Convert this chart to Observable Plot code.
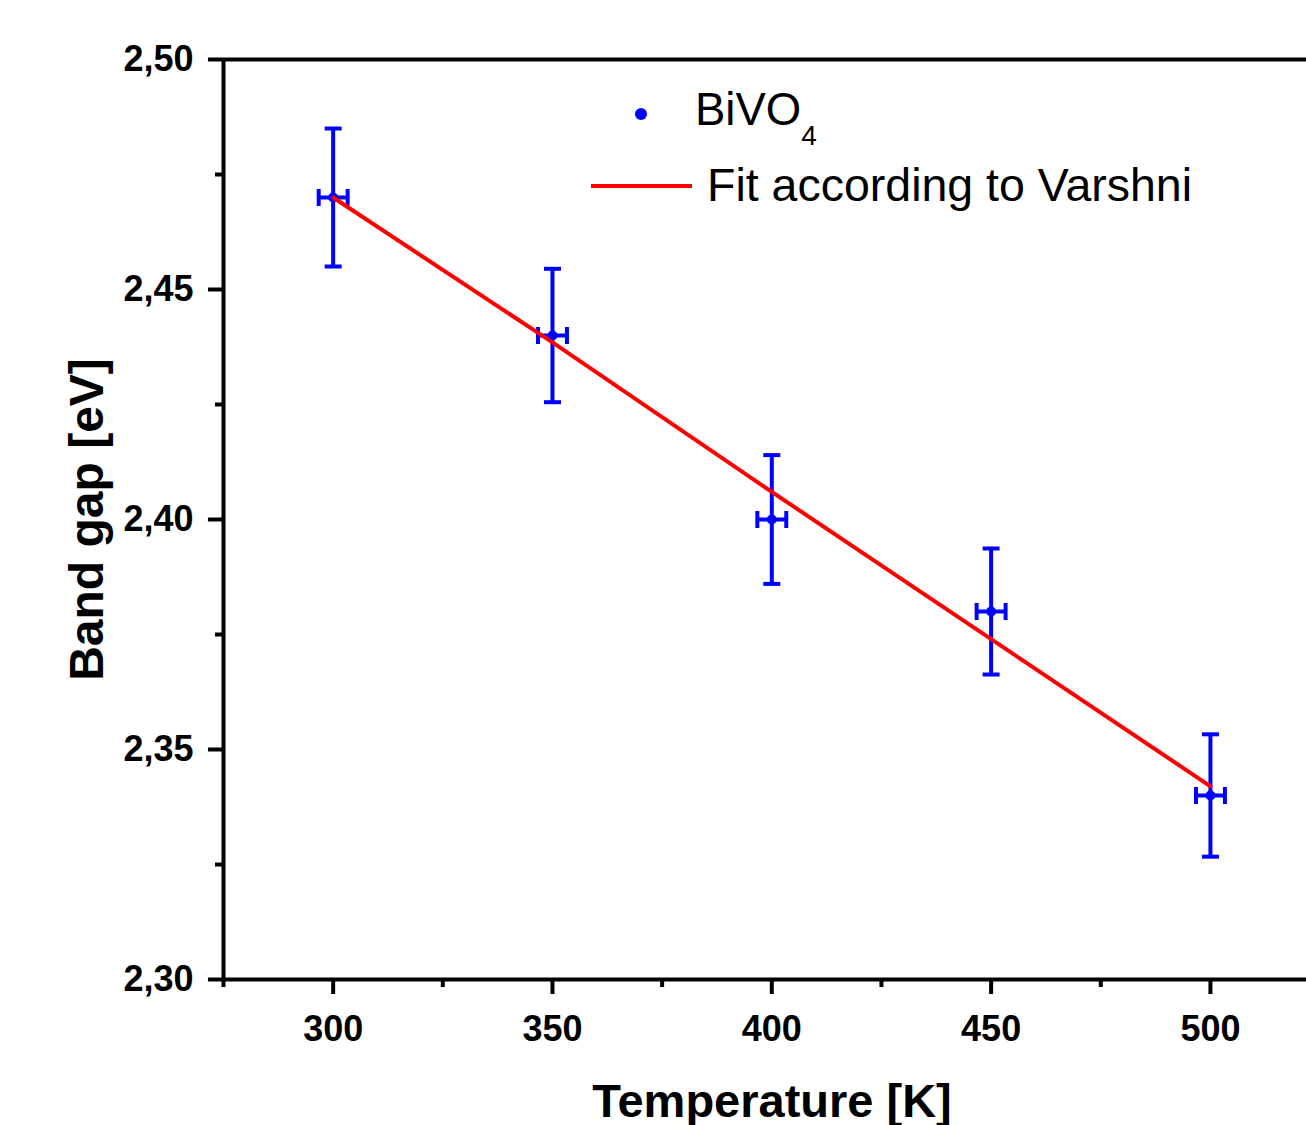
<!DOCTYPE html>
<html>
<head>
<meta charset="utf-8">
<script src="https://cdn.jsdelivr.net/npm/d3@7"></script>
<script src="https://cdn.jsdelivr.net/npm/@observablehq/plot@0.6"></script>
<style>
  html, body { margin: 0; padding: 0; background: #fff; }
  #wrap { position: relative; width: 1306px; height: 1125px; overflow: hidden; }
  #wrap svg { display: block; }
  #legend { position: absolute; left: 0; top: 0; pointer-events: none; }
</style>
</head>
<body>
<div id="wrap"></div>
<script>
// ---- data ----
const temperature = [300, 350, 400, 450, 500];
const bandGap = [2.470, 2.440, 2.400, 2.380, 2.340];
const bandGapErr = [0.015, 0.0145, 0.014, 0.0137, 0.0133];
const temperatureErr = [3.3, 3.3, 3.3, 3.3, 3.3];
const fitT = [300, 350, 400, 450, 500];
const fitE = [2.470, 2.4385, 2.406, 2.374, 2.342];
const yMajor = [2.30, 2.35, 2.40, 2.45, 2.50];
const yMinor = [2.325, 2.375, 2.425, 2.475];
const xMajor = [300, 350, 400, 450, 500];
const xMinor = [275, 325, 375, 425, 475];

const pts = temperature.map((t, i) => ({
  T: t, E: bandGap[i], eErr: bandGapErr[i], tErr: temperatureErr[i],
  top: bandGap[i] + bandGapErr[i], bot: bandGap[i] - bandGapErr[i],
  left: t - temperatureErr[i], right: t + temperatureErr[i]
}));
const fit = fitT.map((t, i) => ({T: t, E: fitE[i]}));

const hbar = {draw(ctx, size) { const r = Math.sqrt(size / Math.PI); ctx.moveTo(-r, 0); ctx.lineTo(r, 0); }};
const vbar = {draw(ctx, size) { const r = Math.sqrt(size / Math.PI); ctx.moveTo(0, -r); ctx.lineTo(0, r); }};

const BLUE = "#0000ff", RED = "#ff0000";
const fmt = d => d3.format(".2f")(d).replace(".", ",");

const chart = Plot.plot({
  width: 1306,
  height: 1125,
  marginLeft: 223,
  marginRight: 0,
  marginTop: 59,
  marginBottom: 146,
  style: {fontFamily: "'Liberation Sans', Arial, sans-serif", background: "#fff", overflow: "visible"},
  x: {domain: [275, 521.9]},
  y: {domain: [2.30, 2.50]},
  marks: [
    // axes
    Plot.axisY(yMajor, {tickSize: 15, tickPadding: 15, tickFormat: fmt, fontSize: 36, fontWeight: "bold", strokeWidth: 4, color: "#000", label: null}),
    Plot.axisY(yMinor, {tickSize: 8, tickFormat: null, text: null, strokeWidth: 4, label: null}),
    Plot.axisX(xMajor, {tickSize: 15, tickPadding: 21, tickFormat: d => String(d), fontSize: 36, fontWeight: "bold", strokeWidth: 4, color: "#000", label: null}),
    Plot.axisX(xMinor, {tickSize: 8, text: null, strokeWidth: 4, label: null}),
    // frame lines
    Plot.ruleX([275], {stroke: "#000", strokeWidth: 4}),
    Plot.ruleY([2.30, 2.50], {stroke: "#000", strokeWidth: 4}),
    // axis labels
    Plot.text(["Temperature [K]"], {frameAnchor: "bottom", dx: 7, dy: 137, lineAnchor: "bottom", textAnchor: "middle", fontSize: 47, fontWeight: "bold", fill: "#000"}),
    Plot.text(["Band gap [eV]"], {frameAnchor: "left", dx: -121, rotate: -90, lineAnchor: "bottom", textAnchor: "middle", fontSize: 48, fontWeight: "bold", fill: "#000"}),
    // y error bars
    Plot.ruleX(pts, {x: "T", y1: "bot", y2: "top", stroke: BLUE, strokeWidth: 4}),
    Plot.dot(pts, {x: "T", y: "top", symbol: hbar, r: 8.5, stroke: BLUE, strokeWidth: 4, fill: "none"}),
    Plot.dot(pts, {x: "T", y: "bot", symbol: hbar, r: 8.5, stroke: BLUE, strokeWidth: 4, fill: "none"}),
    // x error bars
    Plot.ruleY(pts, {y: "E", x1: "left", x2: "right", stroke: BLUE, strokeWidth: 4}),
    Plot.dot(pts, {x: "left", y: "E", symbol: vbar, r: 8.5, stroke: BLUE, strokeWidth: 4, fill: "none"}),
    Plot.dot(pts, {x: "right", y: "E", symbol: vbar, r: 8.5, stroke: BLUE, strokeWidth: 4, fill: "none"}),
    // points
    Plot.dot(pts, {x: "T", y: "E", r: 5, fill: BLUE, stroke: "none"}),
    // fit
    Plot.line(fit, {x: "T", y: "E", stroke: RED, strokeWidth: 4})
  ]
});

const wrap = document.getElementById("wrap");
wrap.appendChild(chart);

// legend overlay
const ns = "http://www.w3.org/2000/svg";
const lg = document.createElementNS(ns, "svg");
lg.setAttribute("id", "legend");
lg.setAttribute("width", 1306);
lg.setAttribute("height", 1125);
lg.setAttribute("font-family", "'Liberation Sans', Arial, sans-serif");
lg.innerHTML = `
  <circle cx="641" cy="114" r="6" fill="${BLUE}"/>
  <text x="695" y="125" font-size="45.5" fill="#000">BiVO<tspan font-size="28" dy="20">4</tspan></text>
  <line x1="591" x2="692" y1="186" y2="186" stroke="${RED}" stroke-width="4"/>
  <text x="707" y="201" font-size="46.5" fill="#000">Fit according to Varshni</text>
`;
wrap.appendChild(lg);
</script>
</body>
</html>
